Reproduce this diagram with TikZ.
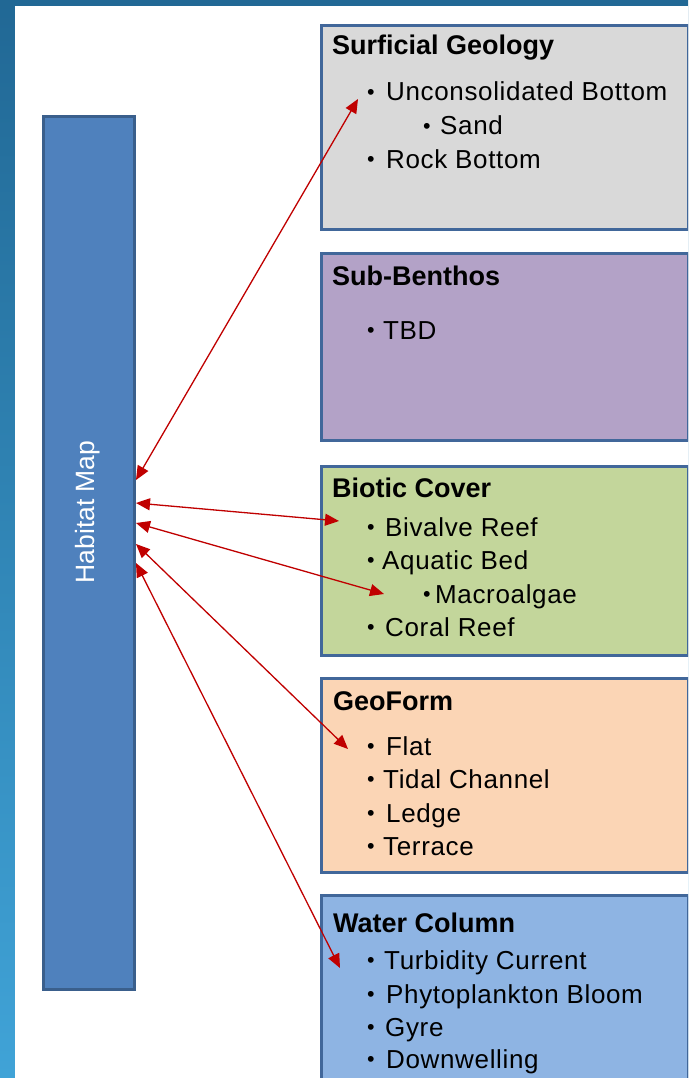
\documentclass[tikz,border=0pt]{standalone}
\usepackage{fontspec}
\setmainfont{Liberation Sans}
\usetikzlibrary{arrows.meta}
\definecolor{bgtop}{HTML}{216895}
\definecolor{bgbot}{HTML}{40A3D7}
\definecolor{hmfill}{HTML}{4F81BD}
\definecolor{hmdraw}{HTML}{3A5F8C}
\definecolor{boxdraw}{HTML}{41679A}
\definecolor{cgeo}{HTML}{D9D9D9}
\definecolor{csub}{HTML}{B3A2C7}
\definecolor{cbio}{HTML}{C3D69B}
\definecolor{cgf}{HTML}{FBD5B5}
\definecolor{cwc}{HTML}{8EB4E3}
\definecolor{arr}{HTML}{C00000}
\newcommand\bul[5]{\node[itm] (#1b) at (#2,#4) {\fontsize{21.5}{24}\selectfont\raisebox{1.8pt}{\textbullet}}; \node[itm] (#1) at (#3,#4) {\addfontfeature{LetterSpace=2.5}#5};}
\begin{document}
\begin{tikzpicture}[x=1pt,y=-1pt,
  catbox/.style={draw=boxdraw, line width=3pt, rectangle, anchor=north west, inner sep=0pt},
  ttl/.style={anchor=base west, inner sep=0pt, font=\fontsize{27}{32}\selectfont\bfseries},
  itm/.style={anchor=base west, inner sep=0pt, font=\fontsize{26}{31}\selectfont},
  link/.style={draw=arr, line width=1.3pt, {Triangle[length=14pt,width=12pt]}-{Triangle[length=14pt,width=12pt]}}]
\useasboundingbox (0,0) rectangle (688,1078);
\clip (0,0) rectangle (688,1078);
\shade[top color=bgtop, bottom color=bgbot] (0,0) rectangle (688,1078);
\fill[white] (15,6) rectangle (688,1078);
% Habitat map
\node[draw=hmdraw, fill=hmfill, line width=3pt, minimum width=91pt, minimum height=873pt, inner sep=0pt] (hm) at (89,553) {};
\node[rotate=90, text=white, font=\fontsize{26.5}{30}\selectfont, inner sep=0pt] (hmt) at (88,512) {Habitat Map};
% category boxes
\node[catbox, fill=cgeo, minimum width=367pt, minimum height=204pt] (sg) at (320,24) {};
\node[catbox, fill=csub, minimum width=367pt, minimum height=187pt] (sb) at (320,252) {};
\node[catbox, fill=cbio, minimum width=367pt, minimum height=189pt] (bc) at (320,465) {};
\node[catbox, fill=cgf, minimum width=367pt, minimum height=194pt] (gf) at (320,677) {};
\node[catbox, fill=cwc, minimum width=367pt, minimum height=200pt] (wc) at (320,894) {};
% titles
\node[ttl] (sgt) at (332,55) {Surficial Geology};
\node[ttl] (sbt) at (332,285) {Sub-Benthos};
\node[ttl] (bct) at (332,497) {Biotic Cover};
\node[ttl] (gft) at (333,710) {GeoForm};
\node[ttl] (wct) at (333,932) {Water Column};
% items
\bul{sg1}{367}{386}{101}{Unconsolidated Bottom}
\bul{sg2}{423}{440}{135}{Sand}
\bul{sg3}{367}{386}{168}{Rock Bottom}
\bul{sb1}{367}{383}{339}{TBD}
\bul{bc1}{367}{385}{536}{Bivalve Reef}
\bul{bc2}{367}{382}{569}{Aquatic Bed}
\bul{bc3}{423}{435}{603}{Macroalgae}
\bul{bc4}{367}{385}{636}{Coral Reef}
\bul{gf1}{367}{386}{755}{Flat}
\bul{gf2}{367}{383}{788}{Tidal Channel}
\bul{gf3}{367}{386}{822}{Ledge}
\bul{gf4}{367}{383}{855}{Terrace}
\bul{wc1}{367}{384}{969}{Turbidity Current}
\bul{wc2}{367}{386}{1003}{Phytoplankton Bloom}
\bul{wc3}{367}{385}{1036}{Gyre}
\bul{wc4}{367}{386}{1068}{Downwelling}
% connector ends
\coordinate (h1) at (hm.east |- 0,480);
\coordinate (h2) at (hm.east |- 0,503);
\coordinate (h3) at (hm.east |- 0,523);
\coordinate (h4) at (hm.east |- 0,544);
\coordinate (h5) at (hm.east |- 0,563);
\coordinate (t1) at (358,99);
\coordinate (t2) at (339,521);
\coordinate (t3) at (384,594);
\coordinate (t4) at (348,749);
\coordinate (t5) at (340,968);
\draw[link] (h1) -- (t1);
\draw[link] (h2) -- (t2);
\draw[link] (h3) -- (t3);
\draw[link] (h4) -- (t4);
\draw[link] (h5) -- (t5);
\end{tikzpicture}
\end{document}
